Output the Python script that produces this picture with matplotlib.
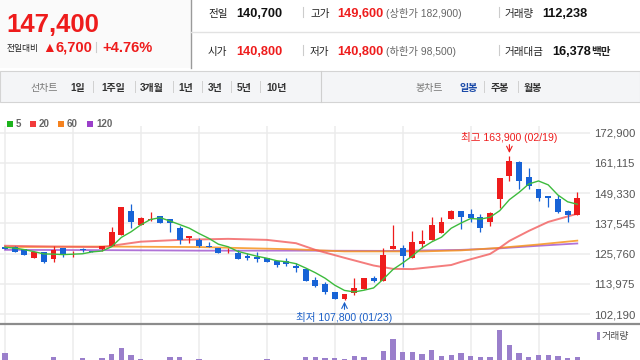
import numpy as np
import pandas as pd
import matplotlib
matplotlib.use("Agg")
from matplotlib import pyplot as plt
from matplotlib.patches import Rectangle
from matplotlib.lines import Line2D

plt.rcParams['font.family'] = ['Liberation Sans', 'Noto Sans CJK KR', 'DejaVu Sans']

# daily candles, values in thousand won
opens = [128.3, 128.3, 127.6, 124.2, 126.3, 123.7, 127.9, 125.8, 127.3, 126.9,
         127.6, 128.8, 133.1, 142.4, 137.0, 139.0, 140.6, 139.2, 135.9, 132.0,
         131.1, 128.9, 128.1, 125.8, 126.1, 125.0, 124.3, 124.0, 122.9, 122.9,
         120.9, 119.8, 115.5, 113.8, 110.6, 108.0, 110.5, 111.9, 116.4, 115.1,
         127.6, 127.9, 124.0, 129.5, 131.1, 133.7, 139.2, 142.4, 141.1, 140.0,
         138.0, 147.0, 156.2, 161.3, 155.6, 151.0, 148.3, 147.0, 142.2, 140.8]
highs = [128.6, 128.8, 127.6, 126.3, 126.3, 128.8, 127.9, 126.6, 128.1, 126.9,
         128.8, 136.1, 144.1, 145.1, 140.2, 141.9, 140.6, 139.2, 136.5, 132.7,
         132.0, 130.2, 128.1, 128.1, 127.2, 126.1, 126.5, 124.0, 122.9, 124.0,
         122.2, 119.8, 116.8, 114.6, 110.6, 110.1, 116.4, 116.4, 117.0, 128.1,
         137.0, 129.2, 134.7, 135.0, 140.0, 140.0, 142.8, 142.4, 143.2, 141.1,
         141.9, 155.2, 163.9, 162.0, 159.1, 151.0, 148.3, 148.7, 142.8, 149.6]
lows = [127.4, 126.4, 125.2, 124.2, 122.2, 122.6, 124.6, 124.6, 126.3, 126.3,
        126.9, 128.8, 133.1, 135.7, 137.0, 138.3, 137.6, 134.0, 129.4, 129.8,
        128.2, 128.3, 126.1, 125.8, 123.7, 123.4, 122.6, 122.3, 120.7, 120.9,
        118.7, 115.1, 112.7, 109.8, 108.0, 107.8, 109.6, 111.9, 114.6, 115.1,
        127.6, 120.7, 124.0, 128.0, 131.1, 133.7, 139.2, 135.3, 138.1, 134.3,
        136.6, 143.5, 153.9, 150.9, 150.9, 146.1, 144.1, 141.5, 137.9, 140.8]
closes = [127.6, 126.4, 125.2, 126.3, 122.6, 127.2, 125.5, 126.0, 127.1, 126.3,
          128.8, 134.1, 144.1, 138.0, 139.8, 139.3, 137.6, 137.6, 131.1, 132.7,
          128.9, 128.3, 126.1, 126.1, 123.7, 124.0, 123.6, 122.3, 121.3, 121.6,
          120.3, 115.1, 113.1, 110.6, 108.0, 110.1, 112.2, 116.4, 115.1, 125.2,
          128.9, 124.9, 130.2, 130.7, 137.0, 137.9, 142.4, 140.2, 139.6, 135.9,
          141.5, 155.2, 161.7, 153.9, 152.2, 147.4, 147.6, 141.9, 140.7, 147.4]
volumes = [129, 85, 80, 80, 90, 112, 85, 75, 106, 80,
           106, 125, 156, 120, 101, 85, 90, 112, 112, 90,
           103, 80, 80, 78, 80, 82, 80, 103, 90, 85,
           88, 112, 112, 107, 107, 103, 116, 112, 90, 141,
           197, 136, 136, 124, 145, 117, 120, 129, 116, 112,
           109, 241, 169, 132, 109, 120, 119, 116, 107, 112]  # thousand shares

# moving averages (candle index, thousand won)
ma5_head = [128.2, 127.9, 127.3, 126.5]
ma20_idx = [0, 5, 10, 11, 14, 18, 23, 27, 30, 32, 35, 38, 40, 42, 46, 47, 50, 51, 52, 54, 56, 59]
ma20_val = [128.8, 128.5, 128.3, 128.8, 130.4, 131.1, 131.5, 131.1, 129.8, 127.2, 124.1,
            121.1, 119.8, 119.7, 121.3, 122.5, 125.6, 128.0, 130.7, 134.6, 138.1, 141.3]
ma60_idx = [0, 10, 20, 30, 35, 43, 47, 51, 55, 59]
ma60_val = [128.3, 128.5, 128.3, 127.4, 126.6, 126.6, 127.0, 128.0, 129.3, 130.8]
ma120_idx = [0, 10, 20, 30, 40, 47, 51, 55, 59]
ma120_val = [127.2, 127.1, 126.9, 126.9, 126.8, 127.2, 127.8, 128.8, 129.7]

price_ticks = [102190, 113975, 125760, 137545, 149330, 161115, 172900]
grid_idx = [0, 7, 14, 20, 27, 34, 41, 48, 55]
hi_idx, lo_idx = 52, 35

W, H = 640, 360
RED = '#ee1c1c'
BLUE = '#1763d6'


def fx(px):
    return px / W


def fy(py):
    return 1 - py / H


fig = plt.figure(figsize=(6.4, 3.6), dpi=100)
fig.patch.set_facecolor('white')


def txt(x, y, s, **kw):
    kw.setdefault('va', 'baseline')
    kw.setdefault('ha', 'left')
    fig.text(fx(x), fy(y), s, **kw)


def hline(x0, x1, y, color, lw=0.8):
    fig.add_artist(Line2D([fx(x0), fx(x1)], [fy(y), fy(y)], color=color, lw=lw))


def vline(x, y0, y1, color, lw=0.8):
    fig.add_artist(Line2D([fx(x), fx(x)], [fy(y0), fy(y1)], color=color, lw=lw))


# header
fig.add_artist(Rectangle((0, fy(68)), fx(191), 68 / H, transform=fig.transFigure,
                         facecolor='#fafafa', edgecolor='none'))
vline(191, 0, 68, '#9a9a9a', 1.0)
hline(191, 640, 31.7, '#e2e2e2', 1.0)
txt(6, 31.5, '147,400', fontsize=18.5, fontweight='bold', color=RED)
txt(7, 51.5, '전일대비', fontsize=6.3, color='#222')
txt(42, 52, '▲', fontsize=10, color=RED)
txt(55, 51.7, '6,700', fontsize=10.5, fontweight='bold', color=RED)
vline(96, 42, 52, '#cccccc')
txt(102, 51.7, '+4.76%', fontsize=10.5, fontweight='bold', color=RED)

rows = [(16.7, [(208, '전일', '#222', 'normal', 7.6), (236, '140,700', '#111', 'bold', 9.2),
                (310, '고가', '#222', 'normal', 7.6), (337, '149,600', RED, 'bold', 9.2),
                (386, '(상한가 182,900)', '#666', 'normal', 7.4),
                (505, '거래량', '#222', 'normal', 7.6), (542, '112,238', '#111', 'bold', 9.2)]),
        (55, [(208, '시가', '#222', 'normal', 7.6), (236, '140,800', RED, 'bold', 9.2),
              (310, '저가', '#222', 'normal', 7.6), (337, '140,800', RED, 'bold', 9.2),
              (386, '(하한가 98,500)', '#666', 'normal', 7.4),
              (505, '거래대금', '#222', 'normal', 7.6), (552, '16,378', '#111', 'bold', 9.2),
              (591, '백만', '#222', 'bold', 7.6)])]
for base, items in rows:
    for x, s, c, w, fs in items:
        txt(x, base, s, fontsize=fs, fontweight=w, color=c)
    vline(303, base - 10, base, '#cccccc')
    vline(499, base - 10, base, '#cccccc')

# nav bar
fig.add_artist(Rectangle((0, fy(102)), 1, 31 / H, transform=fig.transFigure,
                         facecolor='#f4f5f7', edgecolor='#d4d4d4', lw=0.8))
vline(321, 71, 102, '#cfcfcf')
txt(30, 91, '선차트', fontsize=7.2, color='#777')
for x, s in [(70, '1일'), (101, '1주일'), (140, '3개월'), (178, '1년'), (208, '3년'),
             (237, '5년'), (266, '10년')]:
    txt(x, 91, s, fontsize=7.2, fontweight='bold', color='#333')
for x in [93, 135, 173, 202, 231, 260, 484, 518]:
    vline(x, 81, 92, '#d0d0d0', 0.7)
txt(416, 91, '봉차트', fontsize=7.2, color='#777')
txt(459, 91, '일봉', fontsize=7.2, fontweight='bold', color='#1a4aa8')
txt(491, 91, '주봉', fontsize=7.2, fontweight='bold', color='#333')
txt(524, 91, '월봉', fontsize=7.2, fontweight='bold', color='#333')

# MA legend
for x, c, s in [(7, '#1db31d', '5'), (30, '#f23b3b', '20'), (58, '#f5821f', '60'), (87, '#9b3fca', '120')]:
    fig.add_artist(Rectangle((fx(x), fy(127)), fx(6), 6 / H, transform=fig.transFigure,
                             facecolor=c, edgecolor='none'))
    txt(x + 9, 127.3, s, fontsize=7, fontweight='bold', color='#666')

# price panel
n = len(closes)
o = np.array(opens) * 1000
h = np.array(highs) * 1000
l = np.array(lows) * 1000
c = np.array(closes) * 1000
idx = np.arange(n)

ax = fig.add_axes([0, fy(323), fx(590), (323 - 126) / H])
ax.set_xlim(-5 / 9.7, 585 / 9.7)
ax.set_ylim(102190 - 9 * 390, 172900 + 6.7 * 390)
for t in price_ticks:
    ax.axhline(t, color='#ececec', lw=1.1, zorder=0)
for g in grid_idx:
    ax.axvline(g, color='#ececec', lw=1.1, zorder=0)

up = c >= o
colors = np.where(up, RED, BLUE)
ax.vlines(idx, l, h, colors=colors, lw=0.9, zorder=3)
body_lo = np.minimum(o, c)
body_h = np.maximum(np.abs(c - o), 350)
ax.bar(idx, body_h, bottom=body_lo, width=0.6, color=colors, zorder=4, linewidth=0)

ma5 = pd.Series(c).rolling(5).mean().to_numpy()
ma5[:4] = np.array(ma5_head) * 1000
ax.plot(ma120_idx, np.array(ma120_val) * 1000, color='#a35bd1', lw=1.3, alpha=0.85, zorder=2)
ax.plot(ma60_idx, np.array(ma60_val) * 1000, color='#f7941d', lw=1.3, alpha=0.85, zorder=2)
ax.plot(ma20_idx, np.array(ma20_val) * 1000, color='#f25c5c', lw=1.4, alpha=0.8, zorder=2)
ax.plot(idx, ma5, color='#3dbb3d', lw=1.0, zorder=5)

ax.annotate('최고 163,900 (02/19)', xy=(hi_idx, h[hi_idx]), xytext=(0, 13), textcoords='offset points',
            ha='center', va='center', fontsize=7.6, color=RED)
ax.annotate('', xy=(hi_idx, h[hi_idx]), xytext=(0, 8), textcoords='offset points',
            arrowprops=dict(arrowstyle='->', color=RED, lw=0.8, shrinkA=0, shrinkB=2))
ax.annotate('최저 107,800 (01/23)', xy=(lo_idx, l[lo_idx]), xytext=(0, -12.6), textcoords='offset points',
            ha='center', va='center', fontsize=7.6, color='#1a5fc8')
ax.annotate('', xy=(lo_idx, l[lo_idx]), xytext=(0, -7), textcoords='offset points',
            arrowprops=dict(arrowstyle='->', color='#1a5fc8', lw=0.8, shrinkA=0, shrinkB=1.5))

ax.yaxis.tick_right()
ax.set_yticks(price_ticks)
ax.set_yticklabels([f'{t:,}' for t in price_ticks], fontsize=8.2, color='#555')
ax.tick_params(axis='y', length=0, pad=3)
ax.set_xticks([])
for s in ax.spines.values():
    s.set_visible(False)
ax.set_facecolor('none')

hline(0, 640, 323.8, '#8c8c8c', 1.6)

# volume panel
vax = fig.add_axes([0, fy(380), fx(590), 55 / H])
vax.set_xlim(-5 / 9.7, 585 / 9.7)
vax.set_ylim(0, 264.9)
for g in grid_idx:
    vax.axvline(g, color='#ececec', lw=1.1, zorder=0)
vax.bar(idx, volumes, width=0.55, color='#9a7fcb', linewidth=0, zorder=2)
vax.axis('off')
fig.add_artist(Rectangle((fx(597), fy(340)), fx(3), 8 / H, transform=fig.transFigure,
                         facecolor='#9a7fcb', edgecolor='none'))
txt(602, 339.5, '거래량', fontsize=7.2, color='#555')

fig.savefig('out.png', dpi=100)
